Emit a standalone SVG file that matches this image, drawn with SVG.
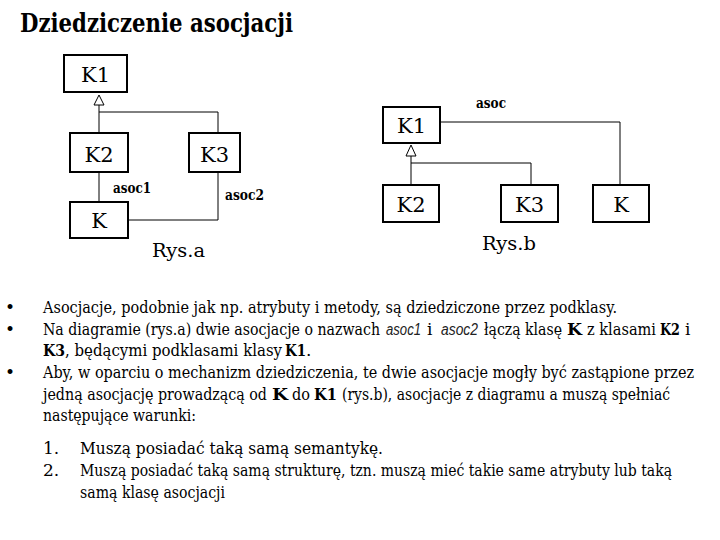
<svg xmlns="http://www.w3.org/2000/svg" width="720" height="540" viewBox="0 0 720 540">
<defs>
<style>
.box{fill:#fff;stroke:#000;stroke-width:2}
.ln{fill:none;stroke:#000;stroke-width:1}
.tri{fill:#fff;stroke:#000;stroke-width:1}
text{font-family:"DejaVu Serif","Liberation Serif","Times New Roman",serif;fill:#000}
.lbl{font-size:21px;text-anchor:middle}
.asoc{font-size:14px;font-weight:bold}
.cap{font-size:19px}
.body{font-size:17px}
.b{font-weight:bold}
.i{font-style:italic;font-family:"Liberation Sans","DejaVu Sans",sans-serif;font-size:16px;fill:#222}
</style>
</defs>
<rect width="720" height="540" fill="#fff"/>
<text x="20" y="32" font-size="26" font-weight="bold" textLength="273" lengthAdjust="spacingAndGlyphs">Dziedziczenie asocjacji</text>

<g id="connectors">
<polyline class="ln" points="99,133 99,105"/>
<polyline class="ln" points="99,112 218,112 218,133"/>
<polyline class="ln" points="99,172 99,202"/>
<polyline class="ln" points="128,220 218,220 218,172"/>
<polygon class="tri" points="99,95 94,105 104,105"/>
<polyline class="ln" points="411,185 411,156"/>
<polyline class="ln" points="411,163 531,163 531,185"/>
<polyline class="ln" points="440,122 620,122 620,185"/>
<polygon class="tri" points="411,145 406,156 416,156"/>
</g>

<g id="a-K1"><rect class="box" x="64" y="55" width="63" height="37"/><text class="lbl" x="95.5" y="82">K1</text></g>
<g id="a-K2"><rect class="box" x="70" y="133" width="58" height="39"/><text class="lbl" x="99" y="162">K2</text></g>
<g id="a-K3"><rect class="box" x="189" y="133" width="51" height="39"/><text class="lbl" x="214.5" y="162">K3</text></g>
<g id="a-K"><rect class="box" x="70" y="202" width="58" height="36"/><text class="lbl" x="99" y="228">K</text></g>
<text class="asoc" x="113" y="193" textLength="38" lengthAdjust="spacingAndGlyphs">asoc1</text>
<text class="asoc" x="225" y="200" textLength="39" lengthAdjust="spacingAndGlyphs">asoc2</text>
<text class="cap" x="152" y="257" textLength="53" lengthAdjust="spacingAndGlyphs">Rys.a</text>

<g id="b-K1"><rect class="box" x="383" y="107" width="57" height="36"/><text class="lbl" x="411.5" y="133">K1</text></g>
<g id="b-K2"><rect class="box" x="383" y="185" width="56" height="37"/><text class="lbl" x="411" y="212">K2</text></g>
<g id="b-K3"><rect class="box" x="501" y="185" width="57" height="37"/><text class="lbl" x="529.5" y="212">K3</text></g>
<g id="b-K"><rect class="box" x="593" y="185" width="56" height="37"/><text class="lbl" x="621" y="212">K</text></g>
<text class="asoc" x="476" y="108" textLength="30" lengthAdjust="spacingAndGlyphs">asoc</text>
<text class="cap" x="482" y="250" textLength="54" lengthAdjust="spacingAndGlyphs">Rys.b</text>

<g class="body">
<text x="5" y="313">•</text>
<text x="5" y="335">•</text>
<text x="5" y="378">•</text>
<text x="43" y="313" textLength="574" lengthAdjust="spacingAndGlyphs">Asocjacje, podobnie jak np. atrybuty i metody, są dziedziczone przez podklasy.</text>

<text x="43" y="335" textLength="337" lengthAdjust="spacingAndGlyphs">Na diagramie (rys.a) dwie asocjacje o nazwach</text>
<text class="i" x="386" y="335" textLength="35" lengthAdjust="spacingAndGlyphs">asoc1</text>
<text x="427" y="335">i</text>
<text class="i" x="441" y="335" textLength="37" lengthAdjust="spacingAndGlyphs">asoc2</text>
<text x="484" y="335" textLength="78" lengthAdjust="spacingAndGlyphs">łączą klasę</text>
<text class="b" x="567" y="335" textLength="15" lengthAdjust="spacingAndGlyphs">K</text>
<text x="587" y="335" textLength="69" lengthAdjust="spacingAndGlyphs">z klasami</text>
<text class="b" x="660" y="335" textLength="20" lengthAdjust="spacingAndGlyphs">K2</text>
<text x="685" y="335">i</text>

<text class="b" x="43" y="356" textLength="22" lengthAdjust="spacingAndGlyphs">K3</text>
<text x="65" y="356" textLength="217" lengthAdjust="spacingAndGlyphs">, będącymi podklasami klasy</text>
<text class="b" x="285" y="356" textLength="21" lengthAdjust="spacingAndGlyphs">K1</text>
<text x="306" y="356">.</text>

<text x="43" y="378" textLength="651" lengthAdjust="spacingAndGlyphs">Aby, w oparciu o mechanizm dziedziczenia, te dwie asocjacje mogły być zastąpione przez</text>

<text x="43" y="400" textLength="224" lengthAdjust="spacingAndGlyphs">jedną asocjację prowadzącą od</text>
<text class="b" x="272" y="400" textLength="16" lengthAdjust="spacingAndGlyphs">K</text>
<text x="292" y="400" textLength="18" lengthAdjust="spacingAndGlyphs">do</text>
<text class="b" x="314" y="400" textLength="23" lengthAdjust="spacingAndGlyphs">K1</text>
<text x="342" y="400" textLength="328" lengthAdjust="spacingAndGlyphs">(rys.b), asocjacje z diagramu a muszą spełniać</text>

<text x="43" y="421" textLength="153" lengthAdjust="spacingAndGlyphs">następujące warunki:</text>
<text x="43" y="454">1.</text>
<text x="80" y="454" textLength="303" lengthAdjust="spacingAndGlyphs">Muszą posiadać taką samą semantykę.</text>
<text x="43" y="476">2.</text>
<text x="80" y="476" textLength="592" lengthAdjust="spacingAndGlyphs">Muszą posiadać taką samą strukturę, tzn. muszą mieć takie same atrybuty lub taką</text>
<text x="80" y="498" textLength="145" lengthAdjust="spacingAndGlyphs">samą klasę asocjacji</text>
</g>
</svg>
